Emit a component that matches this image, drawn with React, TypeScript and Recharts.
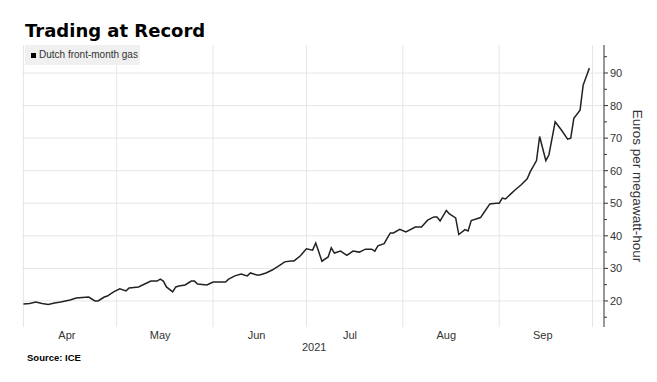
import { LineChart, Line, XAxis, YAxis, ReferenceLine } from 'recharts';

// trading days (2021, MM-DD)
const dates = [
  '04-01', '04-03', '04-05', '04-07', '04-09', '04-11', '04-13', '04-16', '04-18', '04-22', '04-24', '04-25', '04-27', '04-28', '04-30',
  '05-02', '05-04', '05-05', '05-08', '05-10', '05-12', '05-14', '05-15', '05-16', '05-17', '05-19', '05-20', '05-21', '05-23', '05-25', '05-26', '05-27', '05-30',
  '06-01', '06-03', '06-05', '06-06', '06-08', '06-10', '06-12', '06-13', '06-15', '06-16', '06-18', '06-20', '06-21', '06-23', '06-24', '06-26', '06-27', '06-29',
  '07-01', '07-03', '07-04', '07-05', '07-06', '07-08', '07-09', '07-10', '07-12', '07-14', '07-16', '07-18', '07-20', '07-22', '07-23', '07-24', '07-26', '07-27', '07-28', '07-29', '07-31',
  '08-02', '08-05', '08-06', '08-07', '08-09', '08-11', '08-12', '08-13', '08-15', '08-16', '08-18', '08-19', '08-21', '08-22', '08-23', '08-26', '08-27', '08-29', '08-31',
  '09-01', '09-02', '09-03', '09-05', '09-06', '09-08', '09-10', '09-11', '09-13', '09-14', '09-16', '09-17', '09-19', '09-21', '09-23', '09-24', '09-25', '09-27', '09-28', '09-30',
];

// Dutch front-month gas, euros per MWh
const price = [
  19.1, 19.2, 19.7, 19.2, 18.9, 19.4, 19.7, 20.3, 20.9, 21.2, 20.0, 20.0, 21.2, 21.5, 22.8,
  23.7, 23.1, 24.0, 24.3, 25.2, 26.1, 26.1, 26.7, 26.1, 24.3, 22.8, 24.3, 24.6, 24.9, 26.1, 26.1, 25.2, 24.9,
  25.8, 25.8, 25.8, 26.7, 27.7, 28.3, 27.7, 28.6, 28.0, 28.0, 28.6, 29.5, 30.1, 31.3, 32.0, 32.3, 32.3, 33.8,
  36.0, 35.6, 37.8, 35.0, 32.2, 33.5, 36.3, 34.7, 35.3, 34.0, 35.3, 35.0, 35.9, 35.9, 35.3, 36.9, 37.6, 39.3, 40.9, 40.9, 42.0,
  41.2, 42.7, 42.7, 42.7, 44.8, 45.8, 45.8, 44.6, 47.8, 46.7, 45.5, 40.4, 41.9, 41.5, 44.7, 45.6, 47.0, 49.8, 50.0,
  50.0, 51.6, 51.3, 53.1, 54.0, 55.6, 57.5, 59.7, 63.1, 70.5, 63.1, 64.9, 75.0, 72.5, 69.7, 70.0, 76.1, 78.6, 86.3, 91.5,
];

const monthStarts = ['04-01', '05-01', '06-01', '07-01', '08-01', '09-01', '10-01'];
const monthTicks = ['04-15', '05-15', '06-15', '07-15', '08-15', '09-15'];
const monthLabels = ['Apr', 'May', 'Jun', 'Jul', 'Aug', 'Sep'];
const yGrid = [20, 30, 40, 50, 60, 70, 80, 90];
const yTicks = [15, 20, 25, 30, 35, 40, 45, 50, 55, 60, 65, 70, 75, 80, 85, 90, 95];

const DAY = 86400000;
const ts = (md: string) => Date.parse(`2021-${md}T00:00:00Z`);
const data = dates.map((d, i) => ({ t: ts(d), v: price[i] }));
const tickTs = monthTicks.map(ts);
const xDomain = [ts('04-01') - 0.45 * DAY, ts('04-01') + 186.7 * DAY];

const FONT = '"Liberation Sans", Arial, sans-serif';

function YTick({ x, y, payload }: any) {
  const major = payload.value % 10 === 0;
  const ax = x - 6;
  return (
    <g>
      <line x1={ax} x2={ax + (major ? 4 : 3)} y1={y} y2={y} stroke="#333" />
      {major && (
        <text x={x} y={y} dy={4} fontSize={11} fill="#333" fontFamily={FONT}>
          {payload.value}
        </text>
      )}
    </g>
  );
}

function AxisTitle(p: any) {
  const vb = p.viewBox;
  const cx = vb.x + 33;
  const cy = vb.y + vb.height / 2;
  return (
    <text x={cx} y={cy} transform={`rotate(90 ${cx} ${cy})`} textAnchor="middle" dominantBaseline="central"
      fontSize={13.5} fill="#333" fontFamily={FONT}>
      Euros per megawatt-hour
    </text>
  );
}

export default function App() {
  return (
    <div style={{ position: 'absolute', left: 0, top: 0, width: 657, height: 382, background: '#fff', fontFamily: FONT }}>
      <div style={{ position: 'absolute', left: 25, top: 20, fontSize: 18, fontWeight: 'bold', color: '#000', fontFamily: '"DejaVu Sans", sans-serif' }}>
        Trading at Record
      </div>
      <LineChart width={657} height={382} data={data} margin={{ top: 45, right: 8, bottom: 35, left: 22 }}>
        {monthStarts.map((m) => (
          <ReferenceLine key={m} x={ts(m)} stroke="#e6e6e6" strokeWidth={1} />
        ))}
        {yGrid.map((g) => (
          <ReferenceLine key={g} y={g} stroke="#e6e6e6" strokeWidth={1} />
        ))}
        <XAxis
          dataKey="t"
          type="number"
          domain={xDomain}
          ticks={tickTs}
          tickFormatter={(v) => monthLabels[tickTs.indexOf(v)]}
          axisLine={false}
          tickLine={false}
          tickSize={2}
          tickMargin={2}
          height={20}
          tick={{ fontSize: 11, fill: '#333', fontFamily: FONT }}
        />
        <YAxis
          orientation="right"
          domain={[12, 98.6]}
          ticks={yTicks}
          interval={0}
          width={45}
          tickSize={4}
          tickMargin={2}
          tickLine={false}
          axisLine={{ stroke: '#333' }}
          tick={<YTick />}
          label={{ content: <AxisTitle /> }}
        />
        <Line type="linear" dataKey="v" stroke="#222" strokeWidth={1.5} dot={false} isAnimationActive={false} />
      </LineChart>
      <div style={{ position: 'absolute', left: 25, top: 45, width: 115, height: 20, background: '#f0f0f0' }}>
        <div style={{ position: 'absolute', left: 6, top: 8, width: 5, height: 5, background: '#000' }} />
        <div style={{ position: 'absolute', left: 14, top: 4, fontSize: 10, color: '#333', whiteSpace: 'nowrap' }}>
          Dutch front-month gas
        </div>
      </div>
      <div style={{ position: 'absolute', left: 302, top: 341, fontSize: 11, color: '#333' }}>2021</div>
      <div style={{ position: 'absolute', left: 27, top: 352, fontSize: 9.5, fontWeight: 'bold', color: '#000' }}>
        Source: ICE
      </div>
    </div>
  );
}
